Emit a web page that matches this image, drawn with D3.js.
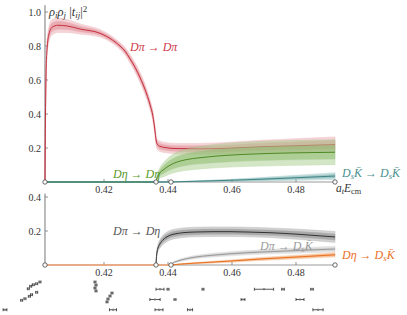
<!DOCTYPE html>
<html><head><meta charset="utf-8">
<script src="https://cdn.jsdelivr.net/npm/d3@7"></script>
<style>html,body{margin:0;padding:0;background:#fff;}svg{display:block;}</style>
</head><body>
<svg id="c" width="407" height="315"></svg>
<script>
// ---------- DATA ----------
const xTicks = [0.42, 0.44, 0.46, 0.48];
const yTicksTop = [0.2, 0.4, 0.6, 0.8, 1.0];
const yTicksBot = [0.2, 0.4];
const thresholds = [0.40156, 0.43625, 0.44094, 0.49219];

// Top panel: D pi -> D pi
const redE = [0.40156,0.40172,0.40188,0.40219,0.40281,0.40375,0.40563,0.40844,0.4125,0.41875,0.42188,0.425,0.42656,0.42813,0.42969,0.43125,0.43281,0.43438,0.43531,0.43594,0.43625,0.43656,0.4375,0.43906,0.44219,0.45,0.45938,0.46875,0.48125,0.49219];
const redV = [0,0.4,0.62,0.78,0.87,0.91,0.922,0.918,0.9,0.875,0.845,0.8,0.77,0.725,0.675,0.615,0.545,0.455,0.385,0.3,0.25,0.225,0.21,0.203,0.197,0.195,0.199,0.207,0.214,0.22];
const redErr = [0,0.03,0.035,0.04,0.045,0.045,0.042,0.038,0.03,0.022,0.02,0.02,0.022,0.025,0.027,0.03,0.03,0.03,0.03,0.03,0.03,0.03,0.03,0.03,0.03,0.032,0.035,0.038,0.042,0.045];
// D eta -> D eta
const greenE = [0.43625,0.43656,0.43688,0.4375,0.43844,0.43969,0.44156,0.44531,0.45,0.45938,0.46875,0.48125,0.49219];
const greenV = [0,0.025,0.038,0.055,0.07,0.088,0.108,0.13,0.143,0.158,0.166,0.172,0.175];
const greenErr = [0,0.01,0.02,0.03,0.04,0.048,0.055,0.062,0.066,0.07,0.072,0.073,0.073];
// Ds Kbar -> Ds Kbar
const tealE = [0.44094,0.44375,0.45,0.45938,0.46875,0.48125,0.49219];
const tealV = [0,0.002,0.005,0.01,0.016,0.026,0.035];
const tealErr = [0,0.001,0.003,0.006,0.01,0.015,0.02];

// Bottom panel: D pi -> D eta
const dkE = [0.43625,0.43641,0.43656,0.43688,0.4375,0.43844,0.43938,0.44063,0.4425,0.44469,0.44844,0.45406,0.45938,0.46469,0.47188,0.48125,0.49219];
const dkV = [0,0.05,0.075,0.1,0.125,0.148,0.162,0.175,0.184,0.19,0.194,0.196,0.196,0.194,0.19,0.18,0.165];
const dkErr = [0,0.01,0.015,0.02,0.025,0.027,0.028,0.028,0.028,0.028,0.028,0.028,0.028,0.028,0.028,0.03,0.032];
// D pi -> Ds Kbar
const ltE = [0.44094,0.44156,0.44281,0.44531,0.44906,0.45313,0.45938,0.46875,0.48125,0.49219];
const ltV = [0,0.012,0.022,0.035,0.048,0.056,0.066,0.076,0.086,0.094];
const ltErr = [0,0.004,0.006,0.008,0.01,0.011,0.012,0.013,0.015,0.017];
// D eta -> Ds Kbar
const orE = [0.44094,0.44375,0.44844,0.45313,0.45938,0.46875,0.48125,0.49219];
const orV = [0,0.005,0.011,0.016,0.023,0.035,0.048,0.06];
const orErr = [0,0.002,0.004,0.005,0.007,0.009,0.011,0.013];

// Lattice energy levels (energy, half error, row)
const levelE   = [0.38906,0.39428,0.39531,0.39666,0.39738,0.39897,0.39634,0.39709,0.39791,0.39897,0.4,0.41719,0.4175,0.41719,0.4175,0.42094,0.42125,0.42188,0.4225,0.42281,0.4375,0.44,0.45094,0.47,0.47594,0.485,0.43594,0.44219,0.46344,0.48125,0.43719,0.44688,0.48688];
const levelErr = [0.0006,0.0003,0.0003,0.0003,0.0003,0.0003,0.0003,0.0003,0.0003,0.0003,0.0003,0.0003,0.0003,0.0003,0.0003,0.0003,0.0003,0.0003,0.0003,0.0011,0.00125,0.0003,0.0003,0.003,0.0004,0.0004,0.0016,0.0003,0.0006,0.00125,0.00125,0.0008,0.0016];
const levelRow = [3.0,2.08,1.92,1.69,1.53,1.30,0.95,0.71,0.56,0.46,0.29,0.29,0.59,0.88,1.17,2.24,1.95,1.66,1.37,3.0,1.0,1.0,1.0,1.0,1.0,1.0,2.0,2.0,2.0,2.0,3.0,3.0,3.0];

// ---------- DRAW ----------
const svg = d3.select('#c');
const x = d3.scaleLinear().domain([0.42, 0.48]).range([104, 296]);
const yT = d3.scaleLinear().domain([0, 1]).range([182, 12]);
const yB = d3.scaleLinear().domain([0, 0.4]).range([265, 197]);
const yL = d3.scaleLinear().domain([0, 4]).range([279, 320]);
const x0 = thresholds[0], x1 = thresholds[3];
const serif = "Liberation Serif, DejaVu Serif, serif";
const axisCol = '#9a9a9a';

function zip(E, V, Er){ return E.map((e,i)=>({e, v:V[i], er:Er[i]})); }

function drawBand(g, y, E, V, Er, c){
  const d = zip(E,V,Er);
  const area = k => d3.area().x(p=>x(p.e)).y0(p=>y(Math.max(0,p.v-k*p.er))).y1(p=>y(p.v+k*p.er)).curve(d3.curveMonotoneX);
  g.append('path').datum(d).attr('d', area(1)).attr('fill', c.band).attr('opacity', 0.5)
    .attr('stroke', c.inner).attr('stroke-width', 0.5);
  g.append('path').datum(d).attr('d', area(0.55)).attr('fill', c.inner).attr('opacity', 0.5)
    .attr('stroke', c.inner).attr('stroke-width', 0.4);
  g.append('path').datum(d).attr('d', d3.line().x(p=>x(p.e)).y(p=>y(p.v)).curve(d3.curveMonotoneX)(d))
    .attr('fill','none').attr('stroke', c.line).attr('stroke-width', 1);
}
function zeroLine(g, y, eEnd, col){
  g.append('line').attr('x1', x(x0)).attr('x2', x(eEnd)).attr('y1', y(0)).attr('y2', y(0))
    .attr('stroke', col).attr('stroke-width', 1.3);
}

function axes(g, y, yt, yMax){
  g.append('line').attr('x1', x(x0)).attr('x2', x(x1)).attr('y1', y(0)).attr('y2', y(0))
    .attr('stroke', axisCol).attr('stroke-width', 1);
  g.append('line').attr('x1', x(x0)).attr('x2', x(x0)).attr('y1', y(0)).attr('y2', y(yMax))
    .attr('stroke', '#777').attr('stroke-width', 1);
  xTicks.forEach(t=>{
    g.append('line').attr('x1', x(t)).attr('x2', x(t)).attr('y1', y(0)).attr('y2', y(0)-3)
      .attr('stroke', '#777').attr('stroke-width', 0.8);
    g.append('text').attr('x', x(t)).attr('y', y(0)+11).attr('text-anchor','middle')
      .attr('font-family', serif).attr('font-size', 10).attr('fill', '#333').text(t.toFixed(2));
  });
  yt.forEach(t=>{
    g.append('line').attr('x1', x(x0)).attr('x2', x(x0)+3).attr('y1', y(t)).attr('y2', y(t))
      .attr('stroke', '#777').attr('stroke-width', 0.8);
    g.append('text').attr('x', x(x0)-4).attr('y', y(t)+3.5).attr('text-anchor','end')
      .attr('font-family', serif).attr('font-size', 10).attr('fill', '#333').text(t.toFixed(1));
  });
}
function circles(g, y){
  thresholds.forEach(t=>{
    g.append('circle').attr('cx', x(t)).attr('cy', y(0)).attr('r', 2.2)
      .attr('fill','#fff').attr('stroke','#444').attr('stroke-width', 0.8);
  });
}

function label(g, px, py, parts, col, size){
  const t = g.append('text').attr('x', px).attr('y', py).attr('font-family', serif)
    .attr('font-size', size).attr('fill', col);
  parts.forEach(p=>{
    const s = t.append('tspan').text(p[0]);
    if (p[2] === false) s.attr('font-style','normal'); else s.attr('font-style','italic');
    if (p[1]==='sub') s.attr('baseline-shift','-25%').attr('font-size', size*0.72);
    if (p[1]==='sup') s.attr('baseline-shift','45%').attr('font-size', size*0.72);
  });
  return t;
}

const gTop = svg.append('g');
axes(gTop, yT, yTicksTop, 1.04);
drawBand(gTop, yT, redE, redV, redErr, {band:'#eba9b0', inner:'#e08691', line:'#c5303f'});
drawBand(gTop, yT, greenE, greenV, greenErr, {band:'#a9cf8e', inner:'#88b968', line:'#4f8a24'});
zeroLine(gTop, yT, thresholds[1], '#4f8a24');
drawBand(gTop, yT, tealE, tealV, tealErr, {band:'#9cc6c6', inner:'#76aeae', line:'#3f8585'});
zeroLine(gTop, yT, thresholds[2], '#4a8c8c');
circles(gTop, yT);

const gBot = svg.append('g');
axes(gBot, yB, yTicksBot, 0.42);
drawBand(gBot, yB, dkE, dkV, dkErr, {band:'#a8a8a8', inner:'#808080', line:'#333'});
drawBand(gBot, yB, ltE, ltV, ltErr, {band:'#d4d4d4', inner:'#bdbdbd', line:'#9a9a9a'});
drawBand(gBot, yB, orE, orV, orErr, {band:'#f6b888', inner:'#f09a5a', line:'#e8701f'});
zeroLine(gBot, yB, thresholds[2], '#f0a070');
circles(gBot, yB);

const arrow = ' \u2192 ';
label(svg, 49, 16, [['\u03c1',null],['i','sub'],['\u03c1',null],['j','sub'],[' |',null,false],['t',null],['ij','sub'],['|',null,false],['2','sup',false]], '#333', 12.5);
label(svg, 336, 192, [['a',null],['t','sub'],['E',null],['cm','sub',false]], '#333', 11.5);
label(svg, 130, 51, [['D\u03c0'+arrow+'D\u03c0',null]], '#d03a4a', 12);
label(svg, 113, 178, [['D\u03b7'+arrow+'D\u03b7',null]], '#5a9a2a', 12);
label(svg, 342, 177, [['D',null],['s','sub'],['K\u0304'+arrow+'D',null],['s','sub'],['K\u0304',null]], '#4a9090', 12);
label(svg, 113, 235, [['D\u03c0'+arrow+'D\u03b7',null]], '#555', 12);
label(svg, 260, 250, [['D\u03c0'+arrow+'D',null],['s','sub'],['K\u0304',null]], '#9a9a9a', 12);
label(svg, 342, 259, [['D\u03b7'+arrow+'D',null],['s','sub'],['K\u0304',null]], '#e8701f', 12);

const lv = svg.append('g');
levelE.forEach((e,i)=>{
  const cy = yL(levelRow[i]);
  const xa = x(e-levelErr[i]), xb = x(e+levelErr[i]);
  lv.append('line').attr('x1', xa).attr('x2', xb).attr('y1', cy).attr('y2', cy).attr('stroke','#111').attr('stroke-width',0.7);
  lv.append('line').attr('x1', xa).attr('x2', xa).attr('y1', cy-1.5).attr('y2', cy+1.5).attr('stroke','#111').attr('stroke-width',0.7);
  lv.append('line').attr('x1', xb).attr('x2', xb).attr('y1', cy-1.5).attr('y2', cy+1.5).attr('stroke','#111').attr('stroke-width',0.7);
  lv.append('circle').attr('cx', x(e)).attr('cy', cy).attr('r', 0.8).attr('fill','#fff').attr('stroke','#111').attr('stroke-width',0.5);
});
</script>
</body></html>
